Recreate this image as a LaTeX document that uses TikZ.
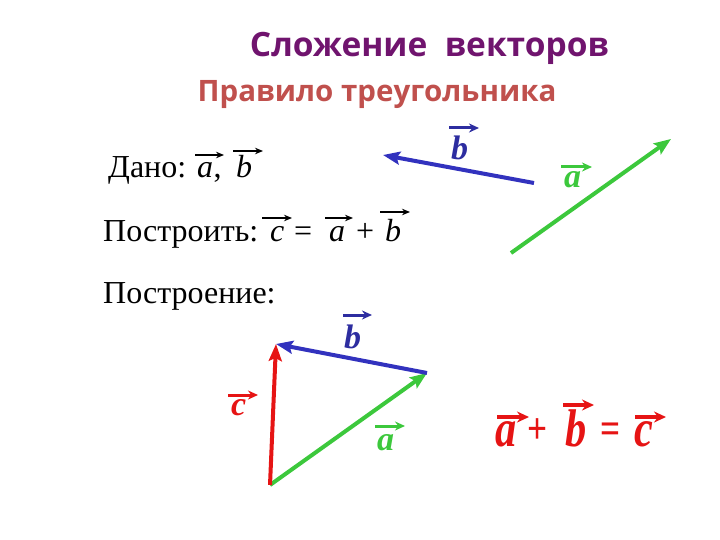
\documentclass[tikz,border=0pt]{standalone}
\usepackage{fontspec}
\setmainfont{Liberation Serif}
\newfontfamily\headfont{Open Sans}
\usetikzlibrary{arrows.meta}
\definecolor{ttl}{RGB}{112,20,110}
\definecolor{sub}{RGB}{192,80,77}
\definecolor{vblue}{RGB}{50,50,190}
\definecolor{lblue}{RGB}{45,45,160}
\definecolor{vgreen}{RGB}{60,200,60}
\definecolor{vred}{RGB}{230,20,20}
\begin{document}
\begin{tikzpicture}[x=1pt,y=-1pt,
  vecline/.style={line width=4pt,-{Stealth[length=17pt,width=13pt,inset=3pt]}},
  lbl/.style={inner sep=0pt,anchor=base west,font=\fontsize{34}{38}\selectfont\bfseries\itshape},
  lblarr/.style={line width=3pt,-{Stealth[length=10pt,width=9pt]}},
  txtarr/.style={line width=1.4pt,black,-{Stealth[length=8pt,width=6.5pt]}},
  txt/.style={inner sep=0pt,anchor=base west,font=\fontsize{32}{36}\selectfont},
  itxt/.style={txt,font=\fontsize{32}{36}\selectfont\itshape},
  head/.style={inner sep=0pt,anchor=base,font=\fontsize{33.5}{38}\selectfont\headfont\bfseries}]
\useasboundingbox (0,0) rectangle (720,540);
% titles
\node[head,text=ttl] (title) at (429.5,57) {Сложение\ \ векторов};
\node[head,text=sub,font=\fontsize{29.5}{34}\selectfont\headfont\bfseries] (subtitle) at (377,102) {Правило треугольника};
% line 1
\node[txt] (dano) at (108,178) {Дано:};
\node[itxt] (da) at (197,178) {a};
\node[txt] (comma) at (da.base east) {,};
\node[itxt] (db) at (236,178) {b};
\draw[txtarr] ([shift={(-2,-23)}]da.base west) -- ([shift={(27,-23)}]da.base west);
\draw[txtarr] ([shift={(-3,-27)}]db.base west) -- ([shift={(27,-27)}]db.base west);
% line 2
\node[txt] (postr) at (103,241) {Построить:};
\node[itxt] (pc) at (270,241) {c};
\node[txt] (peq) at (294,241) {=};
\node[itxt] (pa) at (329,241) {a};
\node[txt] (pplus) at (356,241) {+};
\node[itxt] (pb) at (385,241) {b};
\draw[txtarr] ([shift={(-8,-23)}]pc.base west) -- ([shift={(22,-23)}]pc.base west);
\draw[txtarr] ([shift={(-4,-23)}]pa.base west) -- ([shift={(24,-23)}]pa.base west);
\draw[txtarr] ([shift={(-5,-29)}]pb.base west) -- ([shift={(25,-29)}]pb.base west);
% line 3
\node[txt] (postroenie) at (103,303) {Построение:};
% given vectors
\coordinate (b1) at (534,183);
\coordinate (b2) at (383,155);
\coordinate (a1) at (511,253);
\coordinate (a2) at (671,139);
\draw[vecline,vblue] (b1) -- (b2);
\draw[vecline,vgreen] (a1) -- (a2);
\node[lbl,text=lblue] (gb) at (451,160) {b};
\draw[lblarr,lblue] ([shift={(-2,-32)}]gb.base west) -- ([shift={(28,-32)}]gb.base west);
\node[lbl,text=vgreen] (ga) at (564,188) {a};
\draw[lblarr,vgreen] ([shift={(-3,-21)}]ga.base west) -- ([shift={(28,-21)}]ga.base west);
% triangle
\coordinate (O) at (270,485);
\coordinate (P) at (427,373);
\coordinate (Q) at (276,344);
\draw[vecline,vgreen] (O) -- (P);
\draw[vecline,vblue] (P) -- (Q);
\draw[vecline,vred] (O) -- (Q);
\node[lbl,text=lblue] (tb) at (344,348) {b};
\draw[lblarr,lblue] ([shift={(-1,-33)}]tb.base west) -- ([shift={(28,-33)}]tb.base west);
\node[lbl,text=vred] (tc) at (231,415) {c};
\draw[lblarr,vred] ([shift={(-3,-20)}]tc.base west) -- ([shift={(27,-20)}]tc.base west);
\node[lbl,text=vgreen] (ta) at (377,450) {a};
\draw[lblarr,vgreen] ([shift={(-2,-24)}]ta.base west) -- ([shift={(28,-24)}]ta.base west);
% formula
\begin{scope}[every node/.style={inner sep=0pt,anchor=base west,text=vred,font=\fontsize{53}{56}\selectfont\bfseries\itshape,xscale=0.8}]
\node (fa) at (495,446) {a};
\node[anchor=base,xscale=1,font=\fontsize{44}{48}\selectfont\bfseries] (fplus) at (538,443) {+};
\node (fb) at (565,446) {b};
\node[anchor=base,xscale=1,font=\fontsize{44}{48}\selectfont\bfseries] (feq) at (611,443) {=};
\node (fc) at (634,446) {c};
\end{scope}
\draw[lblarr,vred,line width=3.4pt,-{Stealth[length=12pt,width=11pt]}] ([shift={(2,-29)}]fa.base west) -- ([shift={(34,-29)}]fa.base west);
\draw[lblarr,vred,line width=3.4pt,-{Stealth[length=12pt,width=11pt]}] ([shift={(-2,-41)}]fb.base west) -- ([shift={(29,-41)}]fb.base west);
\draw[lblarr,vred,line width=3.4pt,-{Stealth[length=12pt,width=11pt]}] ([shift={(1,-29)}]fc.base west) -- ([shift={(32,-29)}]fc.base west);
\end{tikzpicture}
\end{document}
